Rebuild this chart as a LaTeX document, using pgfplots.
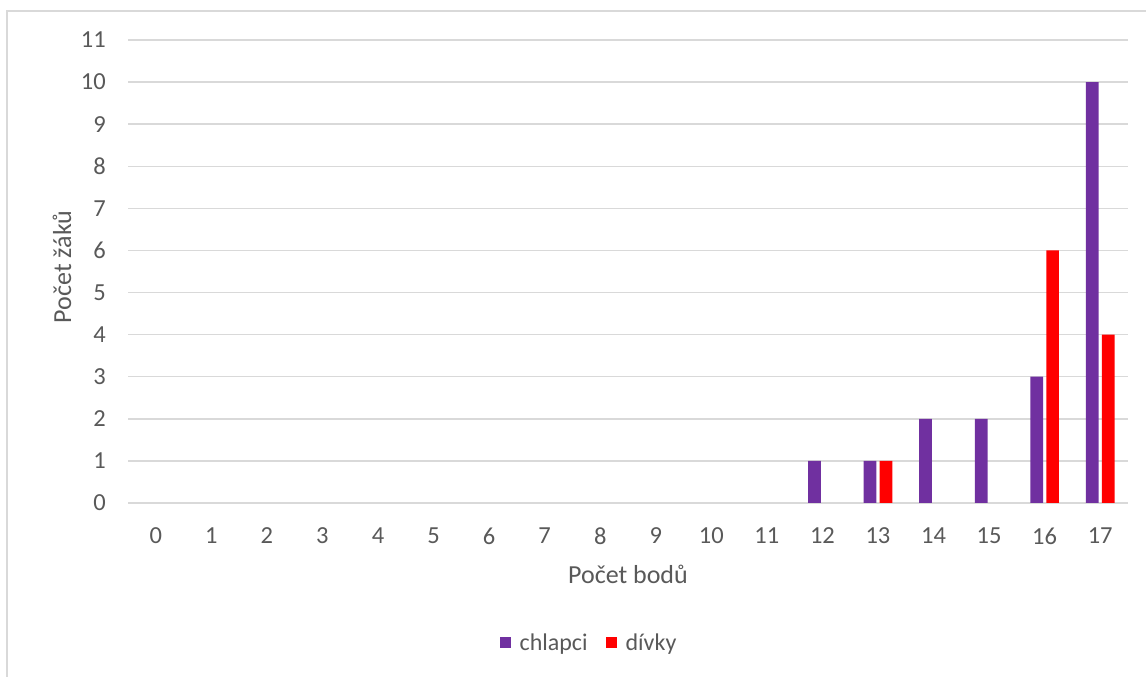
\documentclass[border=0pt]{standalone}
\usepackage{pgfplots}
\pgfplotsset{compat=1.18}
\usepackage{fontspec}
\setmainfont{Carlito}
\definecolor{purp}{HTML}{7030A0}
\definecolor{redb}{HTML}{FF0000}
\definecolor{gridc}{HTML}{D9D9D9}
\definecolor{txt}{HTML}{595959}
\begin{document}
\begin{tikzpicture}[x=1pt,y=1pt]
\path[use as bounding box] (0,0) rectangle (1146,677);
\draw[gridc, line width=1.5pt] (7,0) -- (7,666) -- (1146,666);
\begin{axis}[
  at={(128pt,174pt)}, anchor=south west,
  scale only axis, width=1000pt, height=463pt,
  xmin=-0.5, xmax=17.5, ymin=0, ymax=11,
  ybar=3.2pt, bar width=12.7pt,
  axis line style={draw=none},
  major tick length=0pt,
  xtick={0,...,17}, ytick={0,...,11},
  ymajorgrids, grid style={gridc, line width=1.4pt},
  /pgf/number format/assume math mode=true,
  tick label style={font=\fontsize{24.5}{27}\selectfont, text=txt},
  yticklabel style={anchor=east, inner sep=0pt, xshift=-22pt},
  xticklabel style={anchor=center, inner sep=0pt, yshift=-33pt},
  legend columns=2,
  legend style={at={(0.461,-0.302)}, anchor=center, draw=none, fill=none,
    font=\fontsize{24}{27}\selectfont, text=txt,
    /tikz/every even column/.append style={column sep=16pt},
    /tikz/every odd column/.append style={column sep=7pt}},
  legend image code/.code={\fill[#1] (0pt,-5.5pt) rectangle (11pt,5.5pt);},
  clip=false,
]
\addplot[fill=purp, draw=none] coordinates {(12,1) (13,1) (14,2) (15,2) (16,3) (17,10)};
\addplot[fill=redb, draw=none] coordinates {(13,1) (16,6) (17,4)};
\legend{chlapci, dívky}
\node[rotate=90, text=txt, font=\fontsize{26}{29}\selectfont] at (rel axis cs:-0.066,0.51) {Počet žáků};
\node[text=txt, font=\fontsize{26}{29}\selectfont] at (rel axis cs:0.5,-0.155) {Počet bodů};
\end{axis}
\end{tikzpicture}
\end{document}
